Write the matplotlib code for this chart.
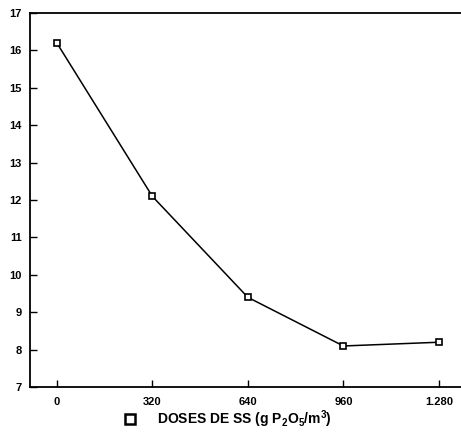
import matplotlib
matplotlib.use('Agg')
import matplotlib.pyplot as plt
from matplotlib.lines import Line2D

# doses de SS (g P2O5/m3) and response
doses = [0, 320, 640, 960, 1280]
valores = [16.2, 12.1, 9.4, 8.1, 8.2]
xticklabels = ['0', '320', '640', '960', '1.280']

plt.rcParams['font.family'] = ['Liberation Sans', 'DejaVu Sans']
plt.rcParams['font.weight'] = 'bold'
plt.rcParams['mathtext.fontset'] = 'custom'
plt.rcParams['mathtext.rm'] = 'Liberation Sans:bold'
plt.rcParams['mathtext.it'] = 'Liberation Sans:bold'

fig = plt.figure(figsize=(4.61, 4.34), dpi=100)
ax = fig.add_axes([0.065, 0.108, 0.935, 0.862])

ax.plot(doses, valores, color='black', linewidth=1.1, marker='s', markersize=5,
        markerfacecolor='white', markeredgecolor='black', markeredgewidth=1.2)

ax.set_xlim(-90, 1354)
ax.set_ylim(7, 17)
ax.set_xticks(doses)
ax.set_xticklabels(xticklabels)
ax.set_yticks(range(7, 18))
ax.tick_params(direction='in', length=5, width=1, labelsize=8, pad=7)
ax.tick_params(axis='y', pad=6)

ax.spines['right'].set_visible(False)
for s in ['top', 'left', 'bottom']:
    ax.spines[s].set_linewidth(1.3)

# legend-like square symbol and axis title
fig.add_artist(Line2D([0.283], [0.035], transform=fig.transFigure, marker='s',
                      markersize=6.5, markerfacecolor='white', markeredgecolor='black',
                      markeredgewidth=1.8, linestyle='none'))
fig.text(0.34, 0.033, 'DOSES DE SS (g P$_2$O$_5$/m$^3$)', ha='left', va='center',
         fontsize=10, fontweight='bold')

fig.savefig('out.png', dpi=100)
